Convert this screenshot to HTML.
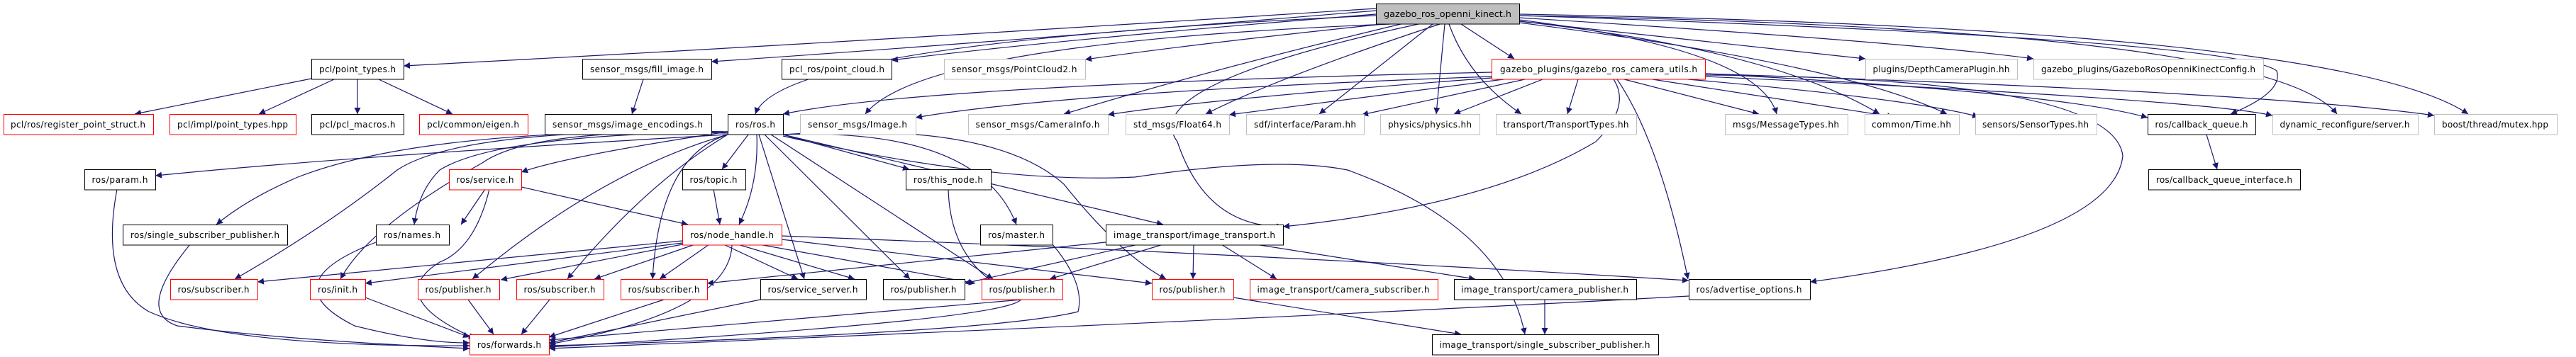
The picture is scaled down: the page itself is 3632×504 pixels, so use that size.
<!DOCTYPE html>
<html><head><meta charset="utf-8"><style>
html,body{margin:0;padding:0;background:#fff;}
svg{display:block;}
text{font-family:"DejaVu Sans","Liberation Sans",sans-serif;font-size:12px;fill:#000;}
.e{fill:none;stroke:#191970;stroke-width:1.2;marker-end:url(#a);}
</style></head><body>
<svg width="3632" height="504" viewBox="0 0 3632 504" xmlns="http://www.w3.org/2000/svg">
<defs><marker id="a" viewBox="0 0 10 10" refX="10" refY="5" markerWidth="9" markerHeight="9" markerUnits="userSpaceOnUse" orient="auto"><path d="M0,0 L10,5 L0,10 z" fill="#191970"/></marker></defs>
<g>
<path class="e" d="M1940,12 Q1200,60 569,93"/>
<path class="e" d="M1940,15 Q1400,60 1003,87"/>
<path class="e" d="M1940,20 Q1500,55 1257,85"/>
<path class="e" d="M1950,34 Q1700,60 1530,84"/>
<path class="e" d="M1940,22 Q1100,60 1065,161"/>
<path class="e" d="M1960,34 Q1300,60 1220,161"/>
<path class="e" d="M1975,34 Q1700,100 1500,161"/>
<path class="e" d="M2030,34 Q1800,110 1700,161"/>
<path class="e" d="M2020,34 L1860,161"/>
<path class="e" d="M2037,34 L2025,161"/>
<path class="e" d="M2043,34 Q2070,110 2145,161"/>
<path class="e" d="M2060,34 L2135,83"/>
<path class="e" d="M2142,30 L2630,83"/>
<path class="e" d="M2142,25 Q2700,60 2867,83"/>
<path class="e" d="M2142,28 Q2480,70 2505,161"/>
<path class="e" d="M2142,30 Q2500,70 2650,161"/>
<path class="e" d="M2142,32 Q2600,90 2745,161"/>
<path class="e" d="M2142,22 Q3150,55 3210,100 Q3220,130 3145,161"/>
<path class="e" d="M2142,22 Q3200,40 3295,161"/>
<path class="e" d="M2142,20 Q3300,40 3480,161"/>
<path class="e" d="M2000,34 Q1600,120 1660,200 Q1700,320 1809,320"/>
<path class="e" d="M2103,102 Q1300,120 1104,161"/>
<path class="e" d="M2103,108 Q1500,130 1291,166"/>
<path class="e" d="M2103,110 Q1700,140 1562,162"/>
<path class="e" d="M2120,112 Q1900,140 1733,162"/>
<path class="e" d="M2150,112 L1920,162"/>
<path class="e" d="M2175,112 L2050,161"/>
<path class="e" d="M2225,112 L2210,161"/>
<path class="e" d="M2290,112 L2480,161"/>
<path class="e" d="M2330,112 L2670,165"/>
<path class="e" d="M2380,112 Q2700,140 2790,165"/>
<path class="e" d="M2404,104 Q2900,130 3028,166"/>
<path class="e" d="M2404,108 Q3100,140 3204,163"/>
<path class="e" d="M2404,104 Q3200,130 3432,163"/>
<path class="e" d="M2404,106 Q2980,110 2993,220 Q2980,340 2552,398"/>
<path class="e" d="M2275,112 Q2300,150 2250,200 Q2100,290 1809,320"/>
<path class="e" d="M2280,112 Q2340,200 2380,394"/>
<path class="e" d="M439,111 L190,161"/>
<path class="e" d="M471,112 L365,161"/>
<path class="e" d="M504,112 L504,161"/>
<path class="e" d="M534,112 L638,161"/>
<path class="e" d="M907,112 L891,161"/>
<path class="e" d="M3111,190 L3126,239"/>
<path class="e" d="M1026,190 Q500,220 219,248"/>
<path class="e" d="M1026,186 Q800,220 735,243"/>
<path class="e" d="M1026,186 Q600,180 420,250 Q350,280 305,317"/>
<path class="e" d="M1026,186 Q700,190 620,240 Q590,270 584,317"/>
<path class="e" d="M1026,186 Q650,180 560,240 Q460,320 331,394"/>
<path class="e" d="M1026,188 Q750,180 680,230 Q520,320 480,394"/>
<path class="e" d="M1026,190 Q850,240 666,394"/>
<path class="e" d="M1026,190 Q910,260 800,394"/>
<path class="e" d="M1026,190 Q930,220 920,394"/>
<path class="e" d="M1055,190 L1018,239"/>
<path class="e" d="M1067,190 Q1070,260 1042,317"/>
<path class="e" d="M1070,190 L1134,394"/>
<path class="e" d="M1078,190 L1283,394"/>
<path class="e" d="M1087,190 L1400,394"/>
<path class="e" d="M1104,190 L1282,239"/>
<path class="e" d="M1104,190 Q1380,180 1433,317"/>
<path class="e" d="M1104,190 Q1400,170 1500,260 Q1580,360 1644,394"/>
<path class="e" d="M1104,190 L1640,317"/>
<path class="e" d="M1104,192 Q1400,260 1600,250 Q1800,220 1900,240 Q2120,320 2150,472"/>
<path class="e" d="M684,267 L650,317"/>
<path class="e" d="M690,267 Q670,350 620,370 Q540,420 670,478"/>
<path class="e" d="M735,264 L970,317"/>
<path class="e" d="M1006,267 L1015,317"/>
<path class="e" d="M165,267 Q140,400 210,440 Q320,490 662,488"/>
<path class="e" d="M268,345 Q190,440 250,460 Q400,480 662,492"/>
<path class="e" d="M530,342 Q380,400 500,460 Q600,485 662,484"/>
<path class="e" d="M515,420 L662,476"/>
<path class="e" d="M660,423 L696,472"/>
<path class="e" d="M775,423 L735,472"/>
<path class="e" d="M936,423 L774,476"/>
<path class="e" d="M1072,423 L774,484"/>
<path class="e" d="M1032,345 Q1030,440 774,486"/>
<path class="e" d="M1337,267 Q1340,380 1440,420 Q1450,450 774,490"/>
<path class="e" d="M1484,345 Q1530,400 1520,440 Q1400,470 774,488"/>
<path class="e" d="M1441,423 L774,480"/>
<path class="e" d="M2381,418 Q1800,450 774,492"/>
<path class="e" d="M962,340 L363,398"/>
<path class="e" d="M962,343 L515,400"/>
<path class="e" d="M962,345 L706,395"/>
<path class="e" d="M980,345 L838,394"/>
<path class="e" d="M1000,345 L930,394"/>
<path class="e" d="M1020,345 L1125,394"/>
<path class="e" d="M1040,345 L1205,394"/>
<path class="e" d="M1070,345 L1375,400"/>
<path class="e" d="M1102,338 L1624,400"/>
<path class="e" d="M1102,333 Q1800,360 2381,396"/>
<path class="e" d="M1559,342 L997,400"/>
<path class="e" d="M1605,345 L1360,400"/>
<path class="e" d="M1640,345 L1480,394"/>
<path class="e" d="M1683,345 L1682,394"/>
<path class="e" d="M1722,345 L1800,394"/>
<path class="e" d="M1770,345 L2080,394"/>
<path class="e" d="M2178,423 L2178,472"/>
<path class="e" d="M1739,420 L2060,472"/>
</g>
<g stroke-width="1">
<rect x="1940.5" y="5.5" width="202" height="28.5" fill="#bfbfbf" stroke="#000"/>
<text x="2041" y="24" text-anchor="middle" textLength="180" lengthAdjust="spacingAndGlyphs">gazebo_ros_openni_kinect.h</text>
</g>
<g fill="#fff" stroke-width="1">
<rect x="439.5" y="83.5" width="130" height="28.5" stroke="#000"/>
<rect x="821.5" y="83.5" width="182" height="28.5" stroke="#000"/>
<rect x="1102.5" y="83.5" width="155" height="28.5" stroke="#000"/>
<rect x="1331.5" y="83.5" width="199" height="28.5" stroke="#bfbfbf"/>
<rect x="2103.5" y="83.5" width="301" height="28.5" stroke="#f00"/>
<rect x="2630.5" y="83.5" width="214" height="28.5" stroke="#bfbfbf"/>
<rect x="2867.5" y="83.5" width="324" height="28.5" stroke="#bfbfbf"/>
<rect x="5.5" y="161.5" width="211" height="28.5" stroke="#f00"/>
<rect x="239.5" y="161.5" width="178" height="28.5" stroke="#f00"/>
<rect x="439.5" y="161.5" width="130" height="28.5" stroke="#000"/>
<rect x="591.5" y="161.5" width="153" height="28.5" stroke="#f00"/>
<rect x="768.5" y="161.5" width="235" height="28.5" stroke="#000"/>
<rect x="1026.5" y="161.5" width="78" height="28.5" stroke="#000"/>
<rect x="1128.5" y="161.5" width="163" height="28.5" stroke="#bfbfbf"/>
<rect x="1365.5" y="161.5" width="197" height="28.5" stroke="#bfbfbf"/>
<rect x="1587.5" y="161.5" width="146" height="28.5" stroke="#bfbfbf"/>
<rect x="1757.5" y="161.5" width="166" height="28.5" stroke="#bfbfbf"/>
<rect x="1946.5" y="161.5" width="140" height="28.5" stroke="#bfbfbf"/>
<rect x="2109.5" y="161.5" width="198" height="28.5" stroke="#bfbfbf"/>
<rect x="2432.5" y="161.5" width="173" height="28.5" stroke="#bfbfbf"/>
<rect x="2629.5" y="161.5" width="133" height="28.5" stroke="#bfbfbf"/>
<rect x="2785.5" y="161.5" width="171" height="28.5" stroke="#bfbfbf"/>
<rect x="3028.5" y="161.5" width="152" height="28.5" stroke="#000"/>
<rect x="3204.5" y="161.5" width="205" height="28.5" stroke="#bfbfbf"/>
<rect x="3432.5" y="161.5" width="173" height="28.5" stroke="#bfbfbf"/>
<rect x="119.5" y="239.5" width="100" height="28.5" stroke="#000"/>
<rect x="633.5" y="239.5" width="102" height="28.5" stroke="#f00"/>
<rect x="962.5" y="239.5" width="89" height="28.5" stroke="#000"/>
<rect x="1277.5" y="239.5" width="120" height="28.5" stroke="#000"/>
<rect x="3029.5" y="239.5" width="214" height="28.5" stroke="#000"/>
<rect x="173.5" y="317.5" width="232" height="28.5" stroke="#000"/>
<rect x="530.5" y="317.5" width="103" height="28.5" stroke="#000"/>
<rect x="962.5" y="317.5" width="140" height="28.5" stroke="#f00"/>
<rect x="1382.5" y="317.5" width="102" height="28.5" stroke="#000"/>
<rect x="1559.5" y="317.5" width="250" height="28.5" stroke="#000"/>
<rect x="240.5" y="394.5" width="123" height="28.5" stroke="#f00"/>
<rect x="437.5" y="394.5" width="78" height="28.5" stroke="#f00"/>
<rect x="589.5" y="394.5" width="115" height="28.5" stroke="#f00"/>
<rect x="728.5" y="394.5" width="123" height="28.5" stroke="#f00"/>
<rect x="875.5" y="394.5" width="122" height="28.5" stroke="#f00"/>
<rect x="1072.5" y="394.5" width="149" height="28.5" stroke="#000"/>
<rect x="1245.5" y="394.5" width="115" height="28.5" stroke="#000"/>
<rect x="1384.5" y="394.5" width="114" height="28.5" stroke="#f00"/>
<rect x="1624.5" y="394.5" width="115" height="28.5" stroke="#f00"/>
<rect x="1762.5" y="394.5" width="265" height="28.5" stroke="#f00"/>
<rect x="2050.5" y="394.5" width="257" height="28.5" stroke="#000"/>
<rect x="2381.5" y="394.5" width="171" height="28.5" stroke="#000"/>
<rect x="662.5" y="472.5" width="112" height="28.5" stroke="#f00"/>
<rect x="2019.5" y="472.5" width="319" height="28.5" stroke="#000"/>
</g>
<g text-anchor="middle" lengthAdjust="spacingAndGlyphs">
<text x="504" y="102" textLength="108">pcl/point_types.h</text>
<text x="912" y="102" textLength="160">sensor_msgs/fill_image.h</text>
<text x="1180" y="102" textLength="134">pcl_ros/point_cloud.h</text>
<text x="1430" y="102" textLength="177">sensor_msgs/PointCloud2.h</text>
<text x="2254" y="102" textLength="278">gazebo_plugins/gazebo_ros_camera_utils.h</text>
<text x="2737" y="102" textLength="193">plugins/DepthCameraPlugin.hh</text>
<text x="3029" y="102" textLength="302">gazebo_plugins/GazeboRosOpenniKinectConfig.h</text>
<text x="110" y="180" textLength="190">pcl/ros/register_point_struct.h</text>
<text x="328" y="180" textLength="156">pcl/impl/point_types.hpp</text>
<text x="504" y="180" textLength="107">pcl/pcl_macros.h</text>
<text x="667" y="180" textLength="130">pcl/common/eigen.h</text>
<text x="885" y="180" textLength="212">sensor_msgs/image_encodings.h</text>
<text x="1065" y="180" textLength="56">ros/ros.h</text>
<text x="1209" y="180" textLength="140">sensor_msgs/Image.h</text>
<text x="1463" y="180" textLength="175">sensor_msgs/CameraInfo.h</text>
<text x="1660" y="180" textLength="124">std_msgs/Float64.h</text>
<text x="1840" y="180" textLength="144">sdf/interface/Param.hh</text>
<text x="2016" y="180" textLength="118">physics/physics.hh</text>
<text x="2208" y="180" textLength="177">transport/TransportTypes.hh</text>
<text x="2518" y="180" textLength="150">msgs/MessageTypes.hh</text>
<text x="2695" y="180" textLength="112">common/Time.hh</text>
<text x="2870" y="180" textLength="150">sensors/SensorTypes.hh</text>
<text x="3104" y="180" textLength="131">ros/callback_queue.h</text>
<text x="3306" y="180" textLength="183">dynamic_reconfigure/server.h</text>
<text x="3518" y="180" textLength="150">boost/thread/mutex.hpp</text>
<text x="169" y="258" textLength="79">ros/param.h</text>
<text x="684" y="258" textLength="81">ros/service.h</text>
<text x="1006" y="258" textLength="67">ros/topic.h</text>
<text x="1337" y="258" textLength="98">ros/this_node.h</text>
<text x="3136" y="258" textLength="192">ros/callback_queue_interface.h</text>
<text x="289" y="336" textLength="210">ros/single_subscriber_publisher.h</text>
<text x="581" y="336" textLength="80">ros/names.h</text>
<text x="1032" y="336" textLength="118">ros/node_handle.h</text>
<text x="1433" y="336" textLength="80">ros/master.h</text>
<text x="1684" y="336" textLength="228">image_transport/image_transport.h</text>
<text x="301" y="413" textLength="101">ros/subscriber.h</text>
<text x="476" y="413" textLength="56">ros/init.h</text>
<text x="646" y="413" textLength="93">ros/publisher.h</text>
<text x="789" y="413" textLength="101">ros/subscriber.h</text>
<text x="936" y="413" textLength="101">ros/subscriber.h</text>
<text x="1146" y="413" textLength="127">ros/service_server.h</text>
<text x="1302" y="413" textLength="93">ros/publisher.h</text>
<text x="1441" y="413" textLength="93">ros/publisher.h</text>
<text x="1681" y="413" textLength="93">ros/publisher.h</text>
<text x="1894" y="413" textLength="243">image_transport/camera_subscriber.h</text>
<text x="2178" y="413" textLength="236">image_transport/camera_publisher.h</text>
<text x="2466" y="413" textLength="149">ros/advertise_options.h</text>
<text x="718" y="491" textLength="90">ros/forwards.h</text>
<text x="2178" y="491" textLength="297">image_transport/single_subscriber_publisher.h</text>
</g>
</svg>
</body></html>
